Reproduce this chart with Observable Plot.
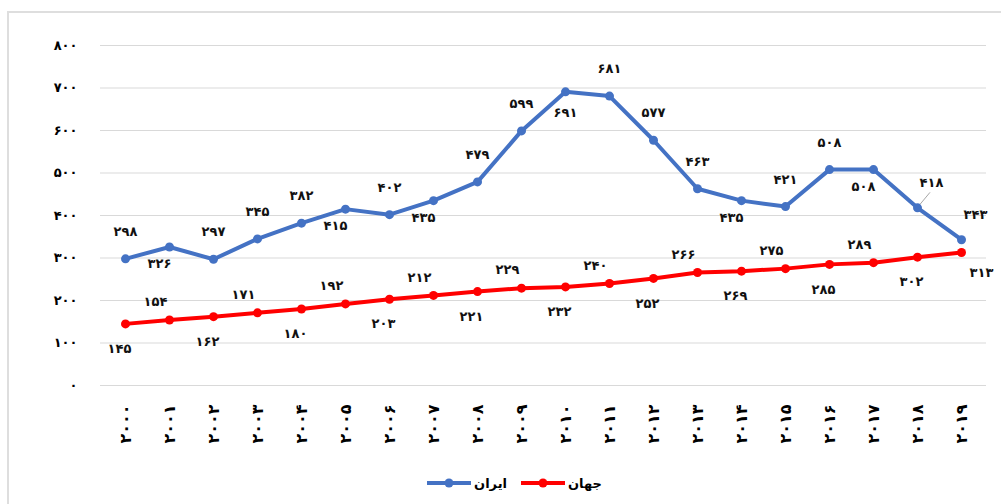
<!DOCTYPE html>
<html>
<head>
<meta charset="utf-8">
<script src="https://cdn.jsdelivr.net/npm/d3@7"></script>
<script src="https://cdn.jsdelivr.net/npm/@observablehq/plot@0.6"></script>
<style>
  html, body { margin: 0; padding: 0; background: #fff; }
  #wrap { position: relative; width: 1001px; height: 504px; overflow: hidden; font-family: "DejaVu Sans", sans-serif; }
  #frame { position: absolute; left: 7px; top: 11px; width: 1100px; height: 600px; border-left: 2px solid #dedede; border-top: 2px solid #dedede; }
  #chart { position: absolute; left: 0; top: 0; }
  #chart g[aria-label^="x-axis"] text { font-size: 16px; }
  #legend { position: absolute; left: 14px; top: 468px; width: 1001px; height: 30px; display: flex; justify-content: center; align-items: center; gap: 14px; font-size: 13px; font-weight: bold; color: #000; }
  .item { display: flex; align-items: center; gap: 3px; }
</style>
</head>
<body>
<div id="wrap">
  <div id="frame"></div>
  <div id="chart"></div>
  <div id="legend"></div>
</div>
<script>
const years = ["2000","2001","2002","2003","2004","2005","2006","2007","2008","2009","2010","2011","2012","2013","2014","2015","2016","2017","2018","2019"];
const iran  = [298, 326, 297, 345, 382, 415, 402, 435, 479, 599, 691, 681, 577, 463, 435, 421, 508, 508, 418, 343];
const world = [145, 154, 162, 171, 180, 192, 203, 212, 221, 229, 232, 240, 252, 266, 269, 275, 285, 289, 302, 313];
const yTicks = [0, 100, 200, 300, 400, 500, 600, 700, 800];
const seriesNames = ["ایران", "جهان"];

// label placement groups (which side of the point each value label sits on)
const iranBelow = new Set(["2001","2005","2007","2014","2017"]);
const iranUnder = new Set(["2010"]);
const iranSide  = new Set(["2018","2019"]);
const worldAbove = new Set(["2001","2003","2005","2007","2009","2011","2013","2015","2017"]);
const worldSide = new Set(["2019"]);

const faDigits = "۰۱۲۳۴۵۶۷۸۹";
const fa = v => String(v).replace(/\d/g, d => faDigits[+d]);

const blue = "#4472C4", red = "#FF0000";
const iranData  = years.map((year, i) => ({year, value: iran[i]}));
const worldData = years.map((year, i) => ({year, value: world[i]}));

const textOpts = {x: "year", y: "value", text: d => fa(d.value), fill: "#111", fontSize: 13, fontWeight: "bold"};

const leader = (index, scales) => {
  const d = iranData.find(d => d.year === "2018");
  const x = scales.x(d.year), y = scales.y(d.value);
  const line = document.createElementNS("http://www.w3.org/2000/svg", "line");
  line.setAttribute("x1", x + 3); line.setAttribute("y1", y - 3);
  line.setAttribute("x2", x + 13); line.setAttribute("y2", y - 15);
  line.setAttribute("stroke", "#a6a6a6"); line.setAttribute("stroke-width", 1);
  return line;
};

const chart = Plot.plot({
  width: 1001,
  height: 465,
  marginLeft: 100,
  marginRight: 15,
  marginTop: 45,
  marginBottom: 80,
  style: {fontFamily: "'DejaVu Sans', sans-serif", fontSize: "13px", fontWeight: "bold", color: "#000", background: "transparent", overflow: "visible"},
  x: {type: "point", domain: years, padding: 0.5, label: null, tickSize: 0, tickPadding: 19, tickRotate: -90, tickFormat: fa},
  y: {domain: [0, 800], ticks: yTicks, label: null, tickSize: 0, tickPadding: 23, tickFormat: fa},
  marks: [
    Plot.ruleY(yTicks, {stroke: "#d9d9d9", strokeWidth: 1}),
    leader,
    Plot.line(worldData, {x: "year", y: "value", stroke: red, strokeWidth: 4}),
    Plot.dot(worldData, {x: "year", y: "value", fill: red, r: 4.5}),
    Plot.line(iranData, {x: "year", y: "value", stroke: blue, strokeWidth: 4}),
    Plot.dot(iranData, {x: "year", y: "value", fill: blue, r: 4.5}),
    Plot.text(iranData.filter(d => !iranBelow.has(d.year) && !iranSide.has(d.year) && !iranUnder.has(d.year)), {...textOpts, dy: -27}),
    Plot.text(iranData.filter(d => iranBelow.has(d.year)), {...textOpts, dx: -10, dy: 17}),
    Plot.text(iranData.filter(d => iranUnder.has(d.year)), {...textOpts, dx: 0, dy: 21}),
    Plot.text(iranData.filter(d => iranSide.has(d.year)), {...textOpts, dx: 14, dy: -25}),
    Plot.text(worldData.filter(d => worldAbove.has(d.year)), {...textOpts, dx: -14, dy: -18}),
    Plot.text(worldData.filter(d => !worldAbove.has(d.year) && !worldSide.has(d.year)), {...textOpts, dx: -6, dy: 25}),
    Plot.text(worldData.filter(d => worldSide.has(d.year)), {...textOpts, dx: 20, dy: 20})
  ]
});
document.getElementById("chart").appendChild(chart);

const legend = document.getElementById("legend");
[[seriesNames[0], blue], [seriesNames[1], red]].forEach(([name, color]) => {
  const item = document.createElement("div");
  item.className = "item";
  item.innerHTML = `<svg width="44" height="12"><line x1="0" y1="6" x2="44" y2="6" stroke="${color}" stroke-width="4"/><circle cx="22" cy="6" r="4.5" fill="${color}"/></svg><span>${name}</span>`;
  legend.appendChild(item);
});
</script>
</body>
</html>
